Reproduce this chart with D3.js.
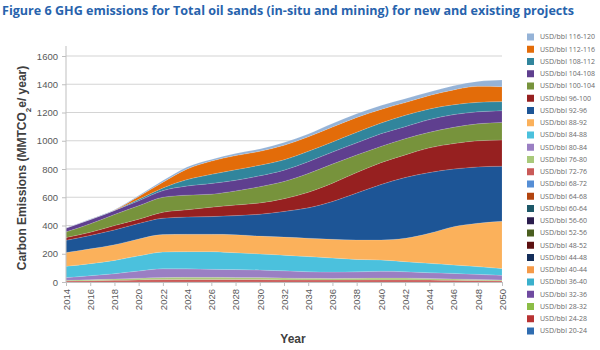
<!DOCTYPE html>
<html>
<head>
<meta charset="utf-8">
<script src="https://cdn.jsdelivr.net/npm/d3@7"></script>
<style>
  body { margin: 0; background: #fff; }
</style>
</head>
<body>
<div id="container"></div>
<script>
/* CONSTANTS AND GLOBALS */
const width = 600,
  height = 350,
  margin = { top: 56, bottom: 68, left: 66, right: 98 }

/* DATA */
const years = [2014, 2016, 2018, 2020, 2022, 2024, 2026, 2028, 2030, 2032, 2034, 2036, 2038, 2040, 2042, 2044, 2046, 2048, 2050]
const yTicks = [0, 200, 400, 600, 800, 1000, 1200, 1400, 1600]

// bins from bottom of the stack to the top
const bins = ["20-24", "24-28", "28-32", "32-36", "36-40", "40-44", "44-48", "48-52", "52-56", "56-60",
  "60-64", "64-68", "68-72", "72-76", "76-80", "80-84", "84-88", "88-92", "92-96", "96-100",
  "100-104", "104-108", "108-112", "112-116", "116-120"]

const binColors = ["#2f6cb0", "#b83333", "#8cbd46", "#6f4aa0", "#3ab0cc", "#f59a48", "#142e5a", "#5c1010", "#4a5e1f", "#2b1d4d",
  "#1d5868", "#b2440f", "#558ed5", "#c95a58", "#a9c97a", "#9a7fc3", "#4bc1dd", "#fbb15b", "#1d5596", "#962020",
  "#77933c", "#5f3f8f", "#31859c", "#e36c09", "#95b3d7"]

// MMTCO2e / year per bin; bins below 72 USD/bbl carry nothing visible
const none = [0, 0, 0, 0, 0, 0, 0, 0, 0, 0, 0, 0, 0, 0, 0, 0, 0, 0, 0]
const usd72_76 = [7, 9, 12, 15, 17, 18, 18, 18, 17, 15, 14, 14, 14, 15, 15, 14, 12, 10, 8]
const usd76_80 = [5, 7, 9, 12, 14, 15, 15, 14, 14, 13, 12, 11, 12, 13, 13, 11, 10, 8, 7]
const usd80_84 = [19, 29, 38, 51, 63, 60, 57, 56, 54, 51, 47, 45, 46, 48, 45, 41, 39, 36, 32]
const usd84_88 = [80, 85, 94, 107, 118, 122, 125, 119, 114, 111, 107, 100, 88, 80, 71, 66, 60, 55, 48]
const usd88_92 = [98, 105, 111, 120, 124, 123, 123, 128, 126, 128, 130, 132, 138, 142, 166, 213, 271, 307, 335]
const usd92_96 = [86, 95, 105, 110, 116, 122, 125, 135, 155, 182, 215, 268, 332, 392, 430, 430, 408, 399, 390]
const usd96_100 = [20, 22, 31, 30, 42, 52, 67, 75, 80, 90, 110, 130, 145, 155, 160, 175, 180, 185, 185]
const usd100_104 = [40, 60, 78, 95, 106, 103, 92, 100, 115, 122, 133, 135, 125, 115, 115, 110, 115, 120, 125]
const usd104_108 = [27, 30, 28, 35, 47, 65, 76, 75, 77, 80, 84, 85, 85, 90, 85, 90, 90, 85, 83]
const usd108_112 = [0, 0, 1, 10, 19, 45, 64, 75, 75, 73, 73, 72, 75, 75, 80, 75, 70, 67, 64]
const usd112_116 = [0, 1, 1, 20, 40, 75, 94, 100, 98, 103, 103, 105, 105, 97, 90, 95, 105, 113, 106]
const usd116_120 = [2, 3, 4, 7, 12, 15, 12, 15, 17, 20, 20, 25, 27, 28, 28, 25, 30, 35, 47]

const binValues = [none, none, none, none, none, none, none, none, none, none,
  none, none, none, usd72_76, usd76_80, usd80_84, usd84_88, usd88_92, usd92_96, usd96_100,
  usd100_104, usd104_108, usd108_112, usd112_116, usd116_120]

const table = years.map((year, i) => {
  const row = { year: year }
  bins.forEach((b, j) => { row[b] = binValues[j][i] })
  return row
})

// SCALES
const xScale = d3.scaleLinear()
  .domain([2014, 2050])
  .range([margin.left, width - margin.right])

const yScale = d3.scaleLinear()
  .domain([0, 1600])
  .range([height - margin.bottom, margin.top])

const color = d3.scaleOrdinal().domain(bins).range(binColors)

// CREATE SVG ELEMENT
const svg = d3.select("#container")
  .append("svg")
  .attr("width", width)
  .attr("height", height)
  .style("font-family", "'Liberation Sans', Arial, sans-serif")

// GRIDLINES
svg.append("g")
  .selectAll("line")
  .data(yTicks.slice(1))
  .join("line")
  .attr("x1", margin.left)
  .attr("x2", width - margin.right)
  .attr("y1", d => yScale(d))
  .attr("y2", d => yScale(d))
  .attr("stroke", "#d4d4d4")
  .attr("stroke-width", 1.2)

// STACKED AREAS
const series = d3.stack().keys(bins)(table)

const areaGen = d3.area()
  .x(d => xScale(d.data.year))
  .y0(d => yScale(d[0]))
  .y1(d => yScale(d[1]))
  .curve(d3.curveMonotoneX)

svg.append("g")
  .selectAll("path")
  .data(series)
  .join("path")
  .attr("d", areaGen)
  .attr("fill", d => color(d.key))
  .attr("stroke", "#ffffff")
  .attr("stroke-opacity", 0.25)
  .attr("stroke-width", 0.5)

// BUILD AND CALL AXES
const yAxis = d3.axisLeft(yScale).tickValues(yTicks).tickFormat(d3.format("d")).tickSize(4).tickSizeOuter(0).tickPadding(4)
const yAxisGroup = svg.append("g")
  .attr("transform", `translate(${margin.left}, 0)`)
  .call(yAxis)
yAxisGroup.select(".domain").remove()
yAxisGroup.append("line")
  .attr("y1", yScale(0))
  .attr("y2", margin.top - 10)
  .attr("stroke", "#bfbfbf")

const xAxis = d3.axisBottom(xScale).tickValues(years).tickFormat(d3.format("d")).tickSize(4).tickSizeOuter(0)
const xAxisGroup = svg.append("g")
  .attr("transform", `translate(0, ${height - margin.bottom})`)
  .call(xAxis)
xAxisGroup.select(".domain").attr("stroke", "#bfbfbf")
xAxisGroup.selectAll("text")
  .attr("transform", "rotate(-90)")
  .attr("x", -7)
  .attr("y", 0)
  .attr("dy", "0.35em")
  .style("text-anchor", "end")

svg.selectAll(".tick line").attr("stroke", "#bfbfbf")
svg.selectAll(".tick text")
  .attr("fill", "#595959")
  .style("font-size", "9.5px")

//AXES LABELS
svg.append("text")
  .attr("text-anchor", "middle")
  .attr("x", 293)
  .attr("y", 343)
  .style("font-size", "12px")
  .style("font-weight", "bold")
  .attr("fill", "#404040")
  .text("Year")

const yLabel = svg.append("text")
  .attr("text-anchor", "middle")
  .attr("transform", "translate(26, 168) rotate(-90)")
  .style("font-size", "12px")
  .style("font-weight", "bold")
  .attr("fill", "#404040")
yLabel.append("tspan").text("Carbon Emissions (MMTCO")
yLabel.append("tspan").attr("baseline-shift", "sub").style("font-size", "8px").text("2")
yLabel.append("tspan").text("e/ year)")

// LEGEND
const legendBins = bins.slice().reverse()
const legend = svg.append("g")
  .selectAll("g")
  .data(legendBins)
  .join("g")
  .attr("transform", (d, i) => `translate(527, ${37 + i * 12.25})`)

legend.append("rect")
  .attr("x", 0)
  .attr("y", -3.5)
  .attr("width", 7)
  .attr("height", 7)
  .attr("fill", d => color(d))

legend.append("text")
  .attr("x", 13)
  .attr("y", 0)
  .attr("dy", "0.35em")
  .style("font-family", "'Open Sans', sans-serif")
  .style("font-size", "7px")
  .attr("fill", "#6b6b6b")
  .text(d => "USD/bbl " + d)

//TITLE
svg.append("text")
  .attr("x", 2)
  .attr("y", 15)
  .attr("textLength", 572)
  .attr("lengthAdjust", "spacingAndGlyphs")
  .style("font-family", "'Open Sans', sans-serif")
  .style("font-size", "13px")
  .style("font-weight", "bold")
  .attr("fill", "#2763ad")
  .text("Figure 6 GHG emissions for Total oil sands (in-situ and mining) for new and existing projects")
</script>
</body>
</html>
